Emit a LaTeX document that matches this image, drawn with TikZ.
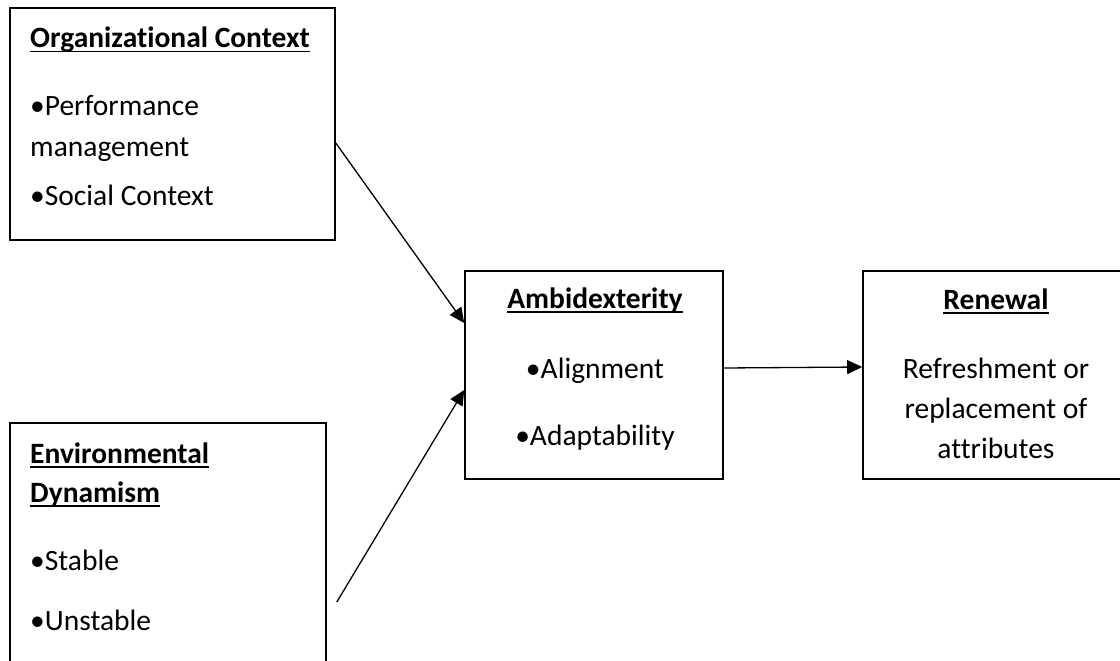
\documentclass[tikz,border=0pt]{standalone}
\usepackage{fontspec}
\setmainfont[Ligatures={NoCommon,NoRare,NoContextual}]{Carlito}
\usepackage{tikz}
\usetikzlibrary{arrows.meta,calc,positioning}

% underlined bold heading
\newcommand{\uhead}[1]{\setbox0\hbox{\bfseries #1}\rlap{\rule[-4.5pt]{\wd0}{1.8pt}}\box0}

\tikzset{
  boxnode/.style={draw,line width=1.6pt,minimum width=#1,inner sep=0pt},
  txt/.style={font=\fontsize{29.5}{40}\selectfont,inner sep=0pt},
  flow/.style={line width=1.3pt,-{Triangle[length=15pt,width=14pt]}}
}

\begin{document}
\begin{tikzpicture}[x=1pt,y=-1pt]
\clip (0,0) rectangle (1120,661);
% ---------- boxes ----------
\node[boxnode=325pt,minimum height=232pt] (org) at (172.5,124) {};
\node[boxnode=316pt,minimum height=300pt] (env) at (168,573) {};
\node[boxnode=258pt,minimum height=208pt] (ambi) at (594,375) {};
\node[boxnode=290pt,minimum height=208pt] (renew) at (1008,375) {};
% ---------- texts ----------
\foreach \y/\t [count=\i] in {48/{\uhead{Organizational Context}},116/{•Performance},157/{management},205/{•Social Context}}
  \node[txt,anchor=base west] (org-\i) at (30,\y) {\t};
\foreach \y/\t [count=\i] in {463/{\uhead{Environmental}},502/{\uhead{Dynamism}},570/{•Stable},630/{•Unstable}}
  \node[txt,anchor=base west] (env-\i) at (30,\y) {\t};
\foreach \y/\t [count=\i] in {308/{\uhead{Ambidexterity}},378/{•Alignment},445/{•Adaptability}}
  \node[txt,anchor=base] (ambi-\i) at (595,\y) {\t};
\foreach \y/\t [count=\i] in {309/{\uhead{Renewal}},378/{Refreshment or},418/{replacement of},458/{attributes}}
  \node[txt,anchor=base] (renew-\i) at (996,\y) {\t};
% ---------- arrows ----------
\draw[flow] ([yshift=-19pt]org.east) -- ([yshift=52pt]ambi.west);
\draw[flow] ([xshift=10pt,yshift=-29pt]env.east) -- ([yshift=-15pt]ambi.west);
\draw[flow] ([yshift=7pt]ambi.east) -- ([yshift=8pt]renew.west);
\end{tikzpicture}
\end{document}
